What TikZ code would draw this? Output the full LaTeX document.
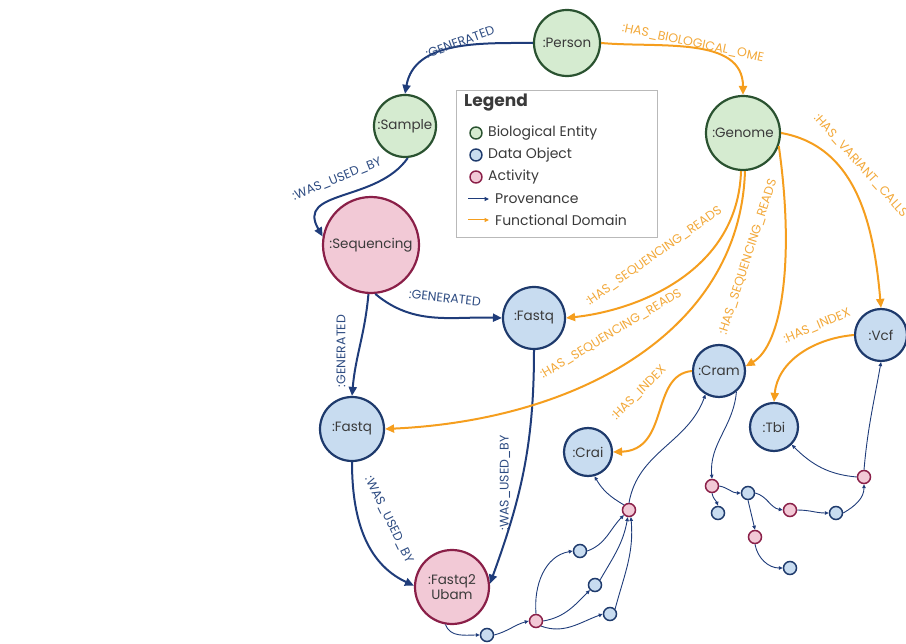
\documentclass[tikz,border=0pt]{standalone}
\usepackage{fontspec}
\setmainfont{Poppins}
\usetikzlibrary{arrows.meta}
\definecolor{bioF}{HTML}{D5EBD0}
\definecolor{bioD}{HTML}{2A5230}
\definecolor{datF}{HTML}{C8DCF0}
\definecolor{datD}{HTML}{1E3A6C}
\definecolor{actF}{HTML}{F2C9D6}
\definecolor{actD}{HTML}{8A1F48}
\definecolor{prov}{HTML}{1F3C7A}
\definecolor{func}{HTML}{F59E1E}
\definecolor{provT}{HTML}{2E4C82}
\definecolor{funcT}{HTML}{F2A93B}
\definecolor{txt}{HTML}{3A3A3A}
\tikzset{
  big/.style={circle, line width=2.2pt, inner sep=0pt, minimum size=#1, font=\fontsize{13.5}{15}\selectfont, text=txt, align=center},
  bio/.style={big=#1, draw=bioD, fill=bioF},
  dat/.style={big=#1, draw=datD, fill=datF},
  act/.style={big=#1, draw=actD, fill=actF},
  sdat/.style={circle, draw=datD, fill=datF, line width=1.5pt, minimum size=13pt, inner sep=0pt},
  sact/.style={circle, draw=actD, fill=actF, line width=1.5pt, minimum size=13pt, inner sep=0pt},
  prv/.style={draw=prov, line width=2pt, -{Triangle[length=9pt,width=8pt]}},
  fnc/.style={draw=func, line width=2pt, -{Triangle[length=9pt,width=8pt]}},
  thn/.style={draw=prov, line width=0.9pt, -{Triangle[length=4pt,width=3.5pt]}},
  plab/.style={text=provT, font=\fontsize{12.5}{13}\selectfont, inner sep=0pt},
  flab/.style={text=funcT, font=\fontsize{12.5}{13}\selectfont, inner sep=0pt},
  legtxt/.style={anchor=west, text=txt, font=\fontsize{14}{15}\selectfont, inner sep=0pt},
  legm/.style={circle, line width=1.4pt, minimum size=12pt, inner sep=0pt}
}
\begin{document}
\begin{tikzpicture}[x=1pt,y=-1pt]
\useasboundingbox (0,0) rectangle (906,644);
\clip (0,0) rectangle (906,644);
% big nodes
\node[bio=66pt] (Person) at (567,43) {:Person};
\node[bio=62pt] (Sample) at (405,126) {:Sample};
\node[act=96pt] (Sequencing) at (371,245) {:Sequencing};
\node[dat=62pt] (Fastq1) at (534,318) {:Fastq};
\node[dat=64pt] (Fastq2) at (352,429) {:Fastq};
\node[act=74pt] (Ubam) at (452,587) {:Fastq2\\Ubam};
\node[bio=74pt] (Genome) at (743,133) {:Genome};
\node[dat=52pt] (Vcf) at (881,335) {:Vcf};
\node[dat=52pt] (Cram) at (719,371) {:Cram};
\node[dat=48pt] (Tbi) at (774,427) {:Tbi};
\node[dat=48pt] (Crai) at (588,452) {:Crai};
% small nodes
\node[sdat] (b1) at (487,635) {};
\node[sact] (a1) at (536,621) {};
\node[sdat] (b2) at (580,551) {};
\node[sdat] (b3) at (595,585) {};
\node[sdat] (b4) at (610,614) {};
\node[sact] (a2) at (629,510) {};
\node[sact] (a3) at (712,486) {};
\node[sdat] (b5) at (718,513) {};
\node[sdat] (b6) at (748,493) {};
\node[sact] (a4) at (790,510) {};
\node[sdat] (b7) at (836,513) {};
\node[sact] (a5) at (864,477) {};
\node[sact] (a6) at (755,537) {};
\node[sdat] (b8) at (790,568) {};
% provenance edges
\draw[prv] (Person.west) to[out=180,in=80] (Sample.north);
\draw[prv] (Sample.-85) to[out=-125,in=120,looseness=1.2] (Sequencing.170);
\draw[prv] (Sequencing.-85) to[out=-40,in=178] (Fastq1.west);
\draw[prv] (Sequencing.-93) to[out=-95,in=85] (Fastq2.north);
\draw[prv] (Fastq2.south) to[out=-90,in=155] (Ubam.178);
\draw[prv] (Fastq1.south) to[out=-90,in=70] (Ubam.5);
% functional edges
\draw[fnc] (Person.east) to[out=-5,in=90] (Genome.north);
\draw[fnc] (Genome.-93) .. controls (738,270) and (640,310) .. (Fastq1.east);
\draw[fnc] (Genome.-87) .. controls (740,330) and (580,420) .. (Fastq2.east);
\draw[fnc] (Genome.-20) .. controls (795,260) and (782,345) .. (Cram.10);
\draw[fnc] (Genome.east) to[out=-10,in=95] (Vcf.north);
\draw[fnc] (Cram.west) .. controls (650,375) and (670,450) .. (Crai.east);
\draw[fnc] (Vcf.west) to[out=185,in=85] (Tbi.north);
% thin edges
\draw[thn] (Ubam.-100) to[out=-70,in=180] (b1.west);
\draw[thn] (b1.east) to[out=15,in=195] (a1.west);
\draw[thn] (a1.north) to[out=95,in=190] (b2.west);
\draw[thn] (a1.east) to[out=10,in=225] (b3.south west);
\draw[thn] (a1.south east) to[out=-20,in=200] (b4.west);
\draw[thn] (b2.east) to[out=20,in=225] (a2.south west);
\draw[thn] (b3.north east) to[out=60,in=260] (a2.-100);
\draw[thn] (b4.north east) to[out=75,in=275] (a2.-75);
\draw[thn] (a2.north west) to[out=150,in=-60] (Crai.-75);
\draw[thn] (a2.north) to[out=80,in=-110] (Cram.-120);
\draw[thn] (Cram.-50) to[out=-95,in=95] (a3.north);
\draw[thn] (a3.south) to[out=-80,in=110] (b5.north);
\draw[thn] (a3.east) to[out=-10,in=180] (b6.west);
\draw[thn] (b6.east) to[out=-15,in=170] (a4.west);
\draw[thn] (b6.south) -- (a6.north);
\draw[thn] (a4.east) to[out=0,in=180] (b7.west);
\draw[thn] (a6.south) to[out=-80,in=180] (b8.west);
\draw[thn] (b7.east) to[out=30,in=-90] (a5.south);
\draw[thn] (a5.north) to[out=85,in=-100] (Vcf.south);
\draw[thn] (a5.west) to[out=175,in=-45] (Tbi.-45);
% edge labels
\node[plab, rotate=20] (l1) at (460,42) {:GENERATED};
\node[plab, rotate=22] (l2) at (337,179) {:WAS\_USED\_BY};
\node[plab, rotate=-6] (l3) at (445,298) {:GENERATED};
\node[plab, rotate=90] (l4) at (341,351) {:GENERATED};
\node[plab, rotate=-64] (l5) at (389,520) {:WAS\_USED\_BY};
\node[plab, rotate=90] (l6) at (505,483) {:WAS\_USED\_BY};
\node[flab, rotate=-12] (l7) at (693,43) {:HAS\_BIOLOGICAL\_OME};
\node[flab, rotate=35] (l8) at (654,256) {:HAS\_SEQUENCING\_READS};
\node[flab, rotate=31] (l9) at (611,334) {:HAS\_SEQUENCING\_READS};
\node[flab, rotate=72] (l10) at (748,257) {:HAS\_SEQUENCING\_READS};
\node[flab, rotate=-48, anchor=west] (l11) at (816,116) {:HAS\_VARIANT\_CALLS};
\node[flab, rotate=45] (l12) at (639,393) {:HAS\_INDEX};
\node[flab, rotate=23] (l13) at (817,326) {:HAS\_INDEX};
% legend
\node[draw=gray!55, line width=0.8pt, minimum width=201pt, minimum height=147pt, anchor=north west, inner sep=0pt] (leg) at (456,90) {};
\node[anchor=west, text=txt, inner sep=0pt, font=\fontsize{17}{18}\selectfont\bfseries] (legT) at (464,103) {Legend};
\node[legm, draw=bioD, fill=bioF] (m1) at (476,133) {};
\node[legm, draw=datD, fill=datF] (m2) at (476,155) {};
\node[legm, draw=actD, fill=actF] (m3) at (476,177) {};
\node[legtxt] (t1) at (488,133) {Biological Entity};
\node[legtxt] (t2) at (488,155) {Data Object};
\node[legtxt] (t3) at (488,177) {Activity};
\coordinate (pa) at (468,199);
\coordinate (pb) at (489,199);
\coordinate (fa) at (468,220);
\coordinate (fb) at (489,220);
\draw[draw=prov, line width=1pt, -{Triangle[length=4.5pt,width=4pt]}] (pa) -- (pb);
\draw[draw=func, line width=1pt, -{Triangle[length=4.5pt,width=4pt]}] (fa) -- (fb);
\node[legtxt] (t4) at (495,199) {Provenance};
\node[legtxt] (t5) at (495,220) {Functional Domain};
\end{tikzpicture}
\end{document}
